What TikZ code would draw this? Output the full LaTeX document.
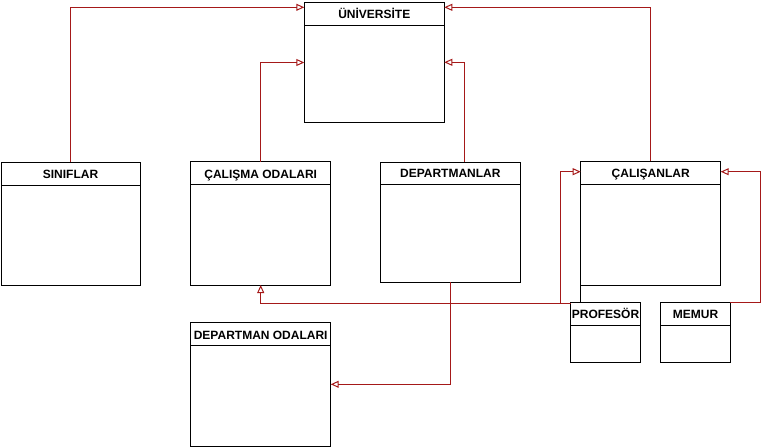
\documentclass[tikz,border=0pt]{standalone}
\usepackage{fontspec}
\setmainfont{Liberation Sans}
\usetikzlibrary{arrows.meta,calc}
\definecolor{conn}{RGB}{165,25,25}
\newcommand\umlclass[7]{%
  \node[umlbox, minimum width={#4-#2}, minimum height={#5-#3}] (#1) at (#2,#3) {};
  \draw[divline] (#2,#6) -- (#4,#6);
  \node[umltitle] (#1-t) at ({(#2+#4)/2},{#6-6.3}) {#7};
}
\begin{document}
\begin{tikzpicture}[x=1pt,y=-1pt,
  umlbox/.style={draw=black, line width=1pt, rectangle, inner sep=0pt, outer sep=0pt, anchor=north west},
  divline/.style={draw=black, line width=1pt},
  umltitle/.style={font=\bfseries\fontsize{12}{14}\selectfont, inner sep=0pt, anchor=base},
  gen/.style={draw=conn, line width=1pt, -{Triangle[open,length=8pt,width=7pt]}},
  plainline/.style={draw=black, line width=1pt}]
\useasboundingbox (0,0) rectangle (769,447);

\umlclass{uni}{304.3}{2}{444.3}{122}{25}{ÜNİVERSİTE}
\umlclass{sin}{1}{162}{140}{285}{185}{SINIFLAR}
\umlclass{cal}{190.7}{161.7}{330.7}{285}{184.3}{ÇALIŞMA ODALARI}
\umlclass{dep}{380.3}{162}{520.3}{282}{184}{DEPARTMANLAR}
\umlclass{emp}{580.7}{161.3}{720.7}{285.3}{184}{ÇALIŞANLAR}
\umlclass{prof}{570.7}{302.3}{640.3}{362.3}{325}{PROFESÖR}
\umlclass{mem}{660.7}{302.3}{730.3}{362.3}{325}{MEMUR}
\umlclass{dodal}{190.7}{322.7}{330.7}{446}{345.3}{DEPARTMAN ODALARI}

\coordinate (pj) at (560.7,303);
\coordinate (mr) at (760.7,302.3);

\draw[gen] (sin.north) |- (uni.west |- 0,7.3);
\draw[gen] (cal.north) |- (uni.west |- 0,62.5);
\draw[gen] (dep.north -| 464,0) |- (uni.east |- 0,62.3);
\draw[gen] (emp.north) |- (uni.east |- 0,7.3);
\draw[gen] (prof.west |- pj) -| (cal.south);
\draw[gen] (prof.west |- pj) -- (pj) |- (emp.west |- 0,171.7);
\draw[plainline] (emp.south west) -- (prof.north -| emp.south west);
\draw[gen] (mem.north east) -- (mr) |- (emp.east |- 0,171.7);
\draw[gen] (dep.south) |- (dodal.east |- 0,384.3);
\end{tikzpicture}
\end{document}
